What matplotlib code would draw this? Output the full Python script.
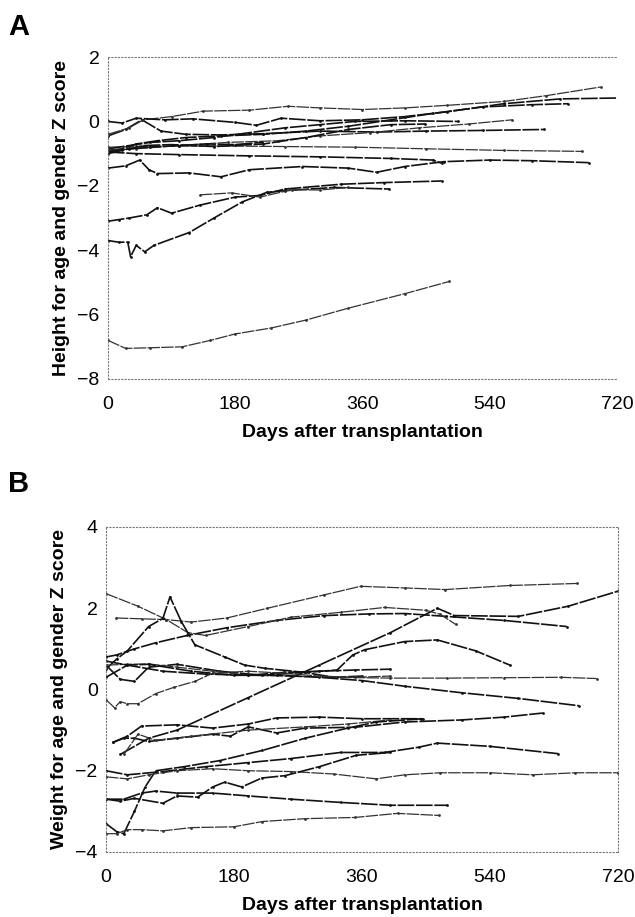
import matplotlib
matplotlib.use("Agg")
import matplotlib.pyplot as plt

# Panel A: height-for-age Z score, one list per patient
height_days = [
    [0, 25, 60, 105, 145, 180, 230, 280, 340, 420, 483],
    [0, 15, 28, 32, 40, 52, 65, 115, 150, 190, 225, 250, 320, 398],
    [0, 15, 30, 55, 70, 90, 130, 180, 215, 250, 330, 390, 472],
    [130, 175, 215, 260, 300, 340],
    [0, 25, 45, 58, 70, 115, 160, 200, 275, 340, 380, 420, 475, 540, 600, 680],
    [0, 40, 100, 200, 300, 400, 460, 472],
    [0, 50, 150, 250, 350, 450, 560, 671],
    [0, 25, 48, 75, 110, 160, 220, 300, 380, 450, 530, 617],
    [0, 20, 40, 70, 110, 160, 220, 280, 340, 400, 460, 530, 600, 651],
    [0, 30, 50, 90, 135, 200, 255, 300, 360, 420, 480, 560, 620, 697],
    [0, 20, 40, 80, 120, 180, 210, 245, 300, 360, 420, 480, 560, 640, 728],
    [0, 30, 60, 100, 150, 200, 250, 300, 350, 420, 495],
    [0, 40, 100, 170, 240, 300, 370, 440, 510, 572],
    [0, 20, 50, 90, 150, 220, 280, 340, 400, 449],
    [0, 30, 60, 100, 140, 180, 218],
]
height_z = [
    [-6.8, -7.05, -7.03, -7.0, -6.8, -6.6, -6.42, -6.17, -5.8, -5.35, -4.97],
    [-3.7, -3.75, -3.75, -4.2, -3.85, -4.05, -3.85, -3.45, -3.0, -2.5, -2.2, -2.15, -2.05, -2.1],
    [-3.1, -3.05, -3.0, -2.9, -2.68, -2.85, -2.6, -2.35, -2.3, -2.1, -1.95, -1.9, -1.85],
    [-2.28, -2.22, -2.35, -2.12, -2.13, -2.05],
    [-1.45, -1.38, -1.2, -1.5, -1.62, -1.6, -1.72, -1.5, -1.4, -1.45, -1.58, -1.4, -1.25, -1.2, -1.22, -1.28],
    [-0.95, -1.0, -1.03, -1.07, -1.1, -1.15, -1.2, -1.3],
    [-0.8, -0.78, -0.76, -0.78, -0.8, -0.85, -0.9, -0.93],
    [-0.45, -0.25, 0.05, -0.3, -0.4, -0.42, -0.38, -0.3, -0.33, -0.3, -0.28, -0.25],
    [-0.9, -0.85, -0.7, -0.6, -0.5, -0.45, -0.4, -0.3, -0.15, 0.05, 0.25, 0.45, 0.52, 0.55],
    [-0.4, -0.2, 0.05, 0.15, 0.32, 0.35, 0.47, 0.42, 0.37, 0.42, 0.5, 0.62, 0.8, 1.07],
    [0.0, -0.05, 0.1, 0.05, 0.08, -0.03, -0.12, 0.1, 0.02, 0.05, 0.15, 0.3, 0.55, 0.7, 0.73],
    [-0.85, -0.75, -0.65, -0.6, -0.5, -0.35, -0.2, -0.1, 0.0, 0.02, 0.0],
    [-0.9, -0.85, -0.75, -0.65, -0.6, -0.45, -0.35, -0.2, -0.08, 0.05],
    [-1.0, -0.9, -0.75, -0.72, -0.78, -0.7, -0.5, -0.25, -0.1, -0.08],
    [-0.95, -0.85, -0.8, -0.75, -0.7, -0.72, -0.65],
]

# Panel B: weight-for-age Z score
weight_days = [
    [14, 50, 85, 120, 170, 227, 307, 358, 420, 477, 568, 662],
    [20, 60, 100, 200, 300, 400, 466, 490, 580, 650, 720],
    [0, 15, 40, 70, 114, 170, 240, 307, 370, 420, 478, 560, 648],
    [0, 45, 85, 115, 140, 200, 260, 330, 392, 450, 470, 492],
    [0, 15, 30, 60, 80, 90, 106, 125, 167, 195, 224, 280, 320, 360],
    [0, 20, 40, 60, 100, 160, 220, 280, 325, 347, 364, 420, 466, 520, 568],
    [0, 30, 60, 100, 150, 200, 260, 320, 400, 480, 560, 640, 690],
    [0, 30, 60, 120, 180, 240, 300, 360, 420, 500, 580, 665],
    [0, 30, 80, 140, 200, 250, 300, 350, 400],
    [0, 12, 20, 30, 45, 70, 95, 125, 150, 200, 250, 300, 350, 400],
    [10, 30, 50, 100, 150, 200, 240, 300, 360, 443],
    [10, 25, 40, 60, 100, 150, 175, 200, 240, 280, 350, 420, 500, 560, 614],
    [25, 45, 70, 120, 200, 280, 340, 400],
    [0, 30, 80, 140, 200, 260, 330, 392, 440, 466, 540, 636],
    [0, 15, 25, 40, 55, 70, 110, 160, 220, 280, 340, 380, 446],
    [0, 30, 60, 100, 150, 200, 260, 320, 380, 420, 470, 540, 600, 660, 720],
    [0, 20, 40, 80, 100, 129, 150, 167, 191, 219, 252, 300, 352, 400],
    [0, 25, 50, 70, 100, 150, 200, 260, 330, 400, 480],
    [0, 15, 30, 50, 80, 120, 180, 220, 280, 350, 410, 468],
]
weight_z = [
    [1.76, 1.74, 1.72, 1.66, 1.76, 2.0, 2.33, 2.54, 2.5, 2.46, 2.56, 2.61],
    [-1.6, -1.2, -1.0, -0.2, 0.6, 1.4, 2.0, 1.82, 1.8, 2.05, 2.42],
    [0.8, 0.85, 1.0, 1.15, 1.33, 1.52, 1.7, 1.82, 1.86, 1.87, 1.8, 1.7, 1.55],
    [2.36, 2.05, 1.72, 1.4, 1.33, 1.55, 1.78, 1.9, 2.02, 1.95, 1.85, 1.6],
    [0.5, 0.75, 0.95, 1.55, 1.75, 2.28, 1.67, 1.1, 0.8, 0.6, 0.52, 0.42, 0.3, 0.33],
    [0.6, 0.25, 0.2, 0.55, 0.62, 0.45, 0.35, 0.42, 0.48, 0.85, 0.98, 1.18, 1.22, 0.95, 0.6],
    [0.6, 0.62, 0.63, 0.55, 0.45, 0.35, 0.33, 0.3, 0.28, 0.28, 0.29, 0.3, 0.27],
    [0.3, 0.6, 0.62, 0.45, 0.35, 0.35, 0.3, 0.22, 0.08, -0.08, -0.22, -0.4],
    [0.7, 0.6, 0.45, 0.38, 0.35, 0.42, 0.45, 0.48, 0.5],
    [-0.25, -0.45, -0.3, -0.35, -0.35, -0.1, 0.05, 0.2, 0.4, 0.45, 0.4, 0.33, 0.3, 0.33],
    [-1.3, -1.15, -0.9, -0.87, -0.95, -0.85, -0.7, -0.68, -0.72, -0.72],
    [-1.3, -1.2, -1.2, -1.28, -1.2, -1.1, -1.15, -0.92, -1.07, -0.95, -0.93, -0.8, -0.75, -0.68, -0.58],
    [-1.6, -1.1, -1.25, -1.15, -1.0, -0.92, -0.85, -0.75],
    [-2.0, -2.1, -2.02, -1.9, -1.8, -1.7, -1.55, -1.55, -1.42, -1.32, -1.4, -1.58],
    [-3.3, -3.5, -3.55, -3.0, -2.4, -2.0, -1.9, -1.75, -1.5, -1.2, -0.95, -0.8, -0.72],
    [-2.15, -2.2, -2.1, -2.0, -1.95, -2.0, -2.02, -2.08, -2.2, -2.1, -2.05, -2.05, -2.1, -2.05, -2.05],
    [-2.7, -2.75, -2.68, -2.8, -2.62, -2.65, -2.4, -2.28, -2.4, -2.18, -2.12, -1.9, -1.62, -1.55],
    [-2.7, -2.7, -2.55, -2.5, -2.55, -2.55, -2.62, -2.7, -2.78, -2.85, -2.85],
    [-3.55, -3.55, -3.45, -3.45, -3.48, -3.4, -3.38, -3.25, -3.18, -3.15, -3.05, -3.1],
]

x_ticks = [0, 180, 360, 540, 720]

narrow = ['Liberation Sans Narrow', 'Liberation Sans', 'DejaVu Sans']
bold = ['Liberation Sans', 'DejaVu Sans']

fig = plt.figure(figsize=(6.35, 9.17), dpi=100)
axA = fig.add_axes([0.170, 0.5867, 0.8016, 0.3511])
axB = fig.add_axes([0.1669, 0.0709, 0.8063, 0.3544])


def draw_panel(ax, days, zs, ylim, yticks, ylabel, letter, letter_y, right_spine):
    for i, (d, z) in enumerate(zip(days, zs)):
        lw = 1.2 if i % 3 else 0.9
        col = '#111111' if i % 3 else '#333333'
        ax.plot(d, z, color=col, lw=lw, ls=(0, (10, 1)),
                marker='.', ms=4, mew=0)
    ax.set_xlim(0, 720)
    ax.set_ylim(*ylim)
    ax.set_xticks(x_ticks)
    ax.set_yticks(yticks)
    ax.tick_params(length=0)
    ax.tick_params(axis='x', pad=12)
    ax.tick_params(axis='y', pad=6)
    for lab in ax.get_xticklabels() + ax.get_yticklabels():
        lab.set_family(narrow)
        lab.set_fontsize(14)
    for side, sp in ax.spines.items():
        sp.set_linestyle((0, (1, 2)))
        sp.set_color('#777777')
        sp.set_linewidth(0.8)
    ax.spines['right'].set_visible(right_spine)
    ax.set_xlabel('Days after transplantation', family=bold,
                  fontweight='bold', fontsize=14)
    ax.xaxis.set_label_coords(0.5, -0.14)
    ax.set_ylabel(ylabel, family=bold, fontweight='bold', fontsize=14)
    ax.yaxis.set_label_coords(-0.075, 0.5)
    fig.text(0.013, letter_y, letter, family=bold, fontweight='bold',
             fontsize=21, va='center', ha='left')


draw_panel(axA, height_days, height_z, (-8, 2), [-8, -6, -4, -2, 0, 2],
           'Height for age and gender Z score', 'A', 1 - 27 / 917, False)
draw_panel(axB, weight_days, weight_z, (-4, 4), [-4, -2, 0, 2, 4],
           'Weight for age and gender Z score', 'B', 1 - 484 / 917, True)

fig.savefig('out.png', dpi=100)
